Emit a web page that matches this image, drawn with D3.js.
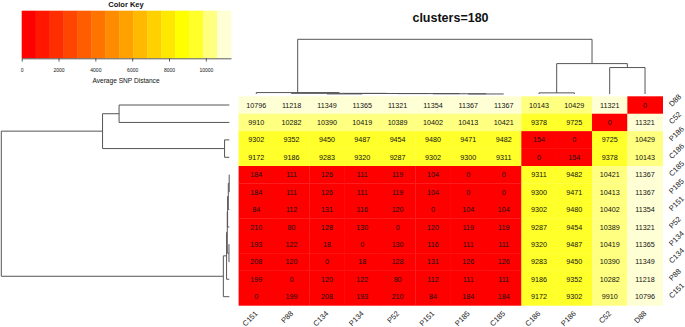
<!DOCTYPE html>
<html lang="en">

<head>
	<title>clusters=180 heatmap</title>
	<meta charset="utf-8">
	<script src="https://d3js.org/d3.v7.min.js"></script>
	<style>
		body { margin: 0; background: #fff; }
		text { font-family: "Liberation Sans", Arial, sans-serif; }
	</style>
</head>

<body>
	<div id="container1"></div>
	<script>
		// Data
		const rowLabels = ["D88", "C52", "P186", "C186", "C185", "P185", "P151", "P52", "P134", "C134", "P88", "C151"];
		const colLabels = ["C151", "P88", "C134", "P134", "P52", "P151", "P185", "C185", "C186", "P186", "C52", "D88"];

		const values = [
			[10796, 11218, 11349, 11365, 11321, 11354, 11367, 11367, 10143, 10429, 11321, 0],
			[9910, 10282, 10390, 10419, 10389, 10402, 10413, 10421, 9378, 9725, 0, 11321],
			[9302, 9352, 9450, 9487, 9454, 9480, 9471, 9482, 154, 0, 9725, 10429],
			[9172, 9186, 9283, 9320, 9287, 9302, 9300, 9311, 0, 154, 9378, 10143],
			[184, 111, 126, 111, 119, 104, 0, 0, 9311, 9482, 10421, 11367],
			[184, 111, 126, 111, 119, 104, 0, 0, 9300, 9471, 10413, 11367],
			[84, 112, 131, 116, 120, 0, 104, 104, 9302, 9480, 10402, 11354],
			[210, 80, 128, 130, 0, 120, 119, 119, 9287, 9454, 10389, 11321],
			[193, 122, 18, 0, 130, 116, 111, 111, 9320, 9487, 10419, 11365],
			[208, 120, 0, 18, 128, 131, 126, 126, 9283, 9450, 10390, 11349],
			[199, 0, 120, 122, 80, 112, 111, 111, 9186, 9352, 10282, 11218],
			[0, 199, 208, 193, 210, 84, 184, 184, 9172, 9302, 9910, 10796]
		];

		// dendrogram: [height, left, right], leaves are labels
		const tree = [33641,
			[880, "C151", [400, "P88", [300, [50, "C134", "P134"], [250, "P52", [150, "P151", [15, "P185", "C185"]]]]]],
			[18700, [699, "C186", "P186"], [16262, "C52", "D88"]]
		];

		const keyTicks = [0, 2000, 4000, 6000, 8000, 10000];
		const heatColors = ["#FF0000", "#FF1700", "#FF2E00", "#FF4600", "#FF5D00", "#FF7400", "#FF8B00",
			"#FFA200", "#FFB900", "#FFD100", "#FFE800", "#FFFF00", "#FFFF2A", "#FFFF80", "#FFFFD5"];

		// Chart dimensions
		const width = 685;
		const height = 327;

		const svg = d3.select("#container1")
			.append("svg")
			.attr("width", width)
			.attr("height", height);

		const maxValue = d3.max(values.flat());

		// Scales
		const xScale = d3.scaleBand()
			.domain(colLabels)
			.range([238.6, 662.7]);

		const yScale = d3.scaleBand()
			.domain(rowLabels)
			.range([96.3, 305.4]);

		const colorScale = d3.scaleQuantize()
			.domain([0, maxValue])
			.range(heatColors);

		const keyScale = d3.scaleLinear()
			.domain([0, maxValue])
			.range([21.7, 231]);

		const colDendroY = d3.scaleLinear()
			.domain([0, tree[0]])
			.range([94, 39.3]);

		const rowDendroX = d3.scaleLinear()
			.domain([0, tree[0]])
			.range([229.3, 1.3]);

		// Heatmap cells
		const cells = [];
		values.forEach((row, i) => {
			row.forEach((v, j) => cells.push({ row: rowLabels[i], col: colLabels[j], value: v }));
		});

		svg.selectAll(".cell")
			.data(cells)
			.enter()
			.append("rect")
			.attr("x", d => xScale(d.col))
			.attr("y", d => yScale(d.row))
			.attr("width", xScale.bandwidth() + 0.3)
			.attr("height", yScale.bandwidth() + 0.3)
			.attr("fill", d => colorScale(d.value));

		svg.selectAll(".cell-label")
			.data(cells)
			.enter()
			.append("text")
			.attr("x", d => xScale(d.col) + xScale.bandwidth() / 2)
			.attr("y", d => yScale(d.row) + yScale.bandwidth() / 2)
			.attr("dy", "0.35em")
			.attr("text-anchor", "middle")
			.attr("font-size", "7.2px")
			.attr("fill", "#111")
			.text(d => d.value);

		// Dendrograms
		function dendroPaths(posOf, hOf, vertical) {
			const root = d3.hierarchy(tree, d => Array.isArray(d) ? d.slice(1) : null);
			root.eachAfter(node => {
				node.h = Array.isArray(node.data) ? node.data[0] : 0;
				node.pos = node.children ? d3.mean(node.children, c => c.pos) : posOf(node.data);
			});
			const paths = [];
			root.each(node => {
				if (!node.children) return;
				const [a, b] = node.children;
				if (vertical) {
					paths.push(`M${a.pos},${hOf(a.h)}V${hOf(node.h)}H${b.pos}V${hOf(b.h)}`);
				} else {
					paths.push(`M${hOf(a.h)},${a.pos}H${hOf(node.h)}V${b.pos}H${hOf(b.h)}`);
				}
			});
			return paths;
		}

		const colPaths = dendroPaths(d => xScale(d) + xScale.bandwidth() / 2, colDendroY, true);
		const rowPaths = dendroPaths(d => yScale(d) + yScale.bandwidth() / 2, rowDendroX, false);

		svg.append("g")
			.selectAll("path")
			.data(colPaths.concat(rowPaths))
			.enter()
			.append("path")
			.attr("d", d => d)
			.attr("fill", "none")
			.attr("stroke", "#555")
			.attr("stroke-width", 1);

		// Axis labels
		svg.selectAll(".col-label")
			.data(colLabels)
			.enter()
			.append("text")
			.attr("transform", d => `translate(${xScale(d) + xScale.bandwidth() / 2 + 2}, 314) rotate(-45)`)
			.attr("text-anchor", "end")
			.attr("font-size", "7.5px")
			.attr("fill", "#222")
			.text(d => d);

		svg.selectAll(".row-label")
			.data(rowLabels)
			.enter()
			.append("text")
			.attr("transform", d => `translate(672, ${yScale(d) + yScale.bandwidth() / 2 + 2}) rotate(-45)`)
			.attr("text-anchor", "start")
			.attr("font-size", "7.5px")
			.attr("fill", "#222")
			.text(d => d);

		// Title
		svg.append("text")
			.attr("x", 450.5)
			.attr("y", 21.5)
			.attr("text-anchor", "middle")
			.attr("font-size", "12.5px")
			.attr("font-weight", "bold")
			.attr("fill", "#111")
			.text("clusters=180");

		// Color key
		svg.append("text")
			.attr("x", 126)
			.attr("y", 6.5)
			.attr("text-anchor", "middle")
			.attr("font-size", "7.5px")
			.attr("font-weight", "bold")
			.attr("fill", "#111")
			.text("Color Key");

		svg.selectAll(".key-rect")
			.data(heatColors)
			.enter()
			.append("rect")
			.attr("x", d => keyScale(colorScale.invertExtent(d)[0]))
			.attr("y", 10.7)
			.attr("width", d => keyScale(colorScale.invertExtent(d)[1]) - keyScale(colorScale.invertExtent(d)[0]) + 0.3)
			.attr("height", 47.6)
			.attr("fill", d => d);

		const keyAxis = d3.axisBottom(keyScale)
			.tickValues(keyTicks)
			.tickFormat(d3.format("d"))
			.tickSize(3.3)
			.tickSizeOuter(0)
			.tickPadding(7);

		svg.append("g")
			.attr("transform", "translate(0, 58.3)")
			.call(keyAxis)
			.call(g => g.selectAll("text").attr("font-size", "5px").attr("fill", "#111").attr("font-family", "Liberation Sans, Arial, sans-serif"))
			.call(g => g.selectAll("line, path").attr("stroke", "#333").attr("stroke-width", 0.8));

		svg.append("text")
			.attr("x", 126)
			.attr("y", 82.5)
			.attr("text-anchor", "middle")
			.attr("font-size", "6.6px")
			.attr("fill", "#111")
			.text("Average SNP Distance");
	</script>
</body>

</html>
